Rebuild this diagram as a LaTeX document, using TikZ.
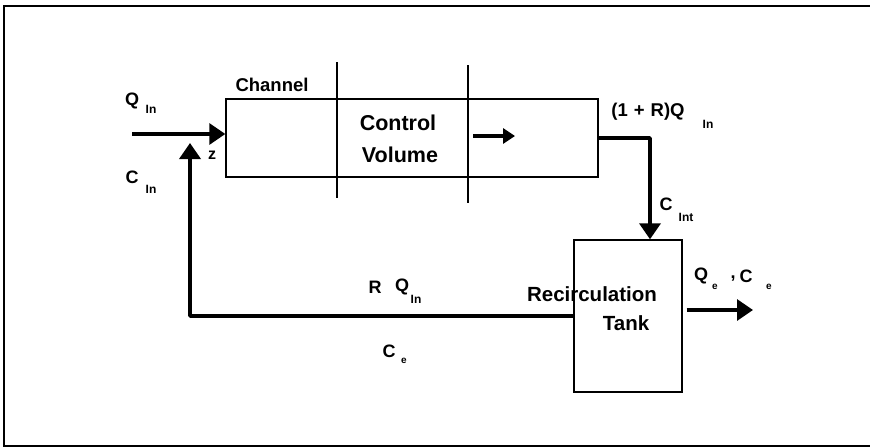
\documentclass[tikz,border=0pt]{standalone}
\usepackage{fontspec}
\setmainfont{Liberation Sans}
\usetikzlibrary{arrows.meta}
\begin{document}
\begin{tikzpicture}[x=1pt,y=-1pt,
  box/.style={draw,line width=1.4pt,inner sep=0,rectangle},
  thin/.style={line width=1.4pt},
  flow/.style={line width=3.6pt,line join=round},
  bighead/.style={-{Triangle[length=16pt,width=21pt]}},
  smallhead/.style={-{Triangle[length=12pt,width=15pt]}},
  big/.style={font=\fontsize{21.5}{21.5}\selectfont\bfseries,inner sep=0},
  lbl/.style={font=\fontsize{18}{18}\selectfont\bfseries,inner sep=0},
  sub/.style={font=\fontsize{12}{12}\selectfont\bfseries,inner sep=0},
  tiny/.style={font=\fontsize{10}{10}\selectfont\bfseries,inner sep=0}]
\useasboundingbox (0,0) rectangle (870,447);
% frame
\draw[line width=2pt] (870,6) -- (4,6) -- (4,446) -- (870,446);
% boxes
\node[box,minimum width=372pt,minimum height=78pt] (chan) at (412,138) {};
\node[box,minimum width=108pt,minimum height=152pt] (tank) at (628,316) {};
% dividers
\coordinate (d1t) at (337,62); \coordinate (d1b) at (337,198);
\coordinate (d2t) at (468,65); \coordinate (d2b) at (468,203);
\draw[thin] (d1t) -- (d1b);
\draw[thin] (d2t) -- (d2b);
% texts in boxes
\node[font=\fontsize{18.5}{18.5}\selectfont\bfseries,inner sep=0] (chl) at (272,85) {Channel};
\node[big] (ctl) at (398,123) {Control};
\node[big] (vol) at (400,155) {Volume};
\node[font=\fontsize{20.5}{20.5}\selectfont\bfseries,inner sep=0] (rec) at (592,294) {Recirculation};
\node[font=\fontsize{20.5}{20.5}\selectfont\bfseries,inner sep=0] (tk) at (626,323) {Tank};
% inner arrow
\coordinate (ia1) at (473,136); \coordinate (ia2) at (515,136);
\draw[line width=3.2pt,smallhead] (ia1) -- (ia2);
% input arrow
\coordinate (qin) at (132,134);
\draw[line width=3.2pt,bighead] (qin) -- (qin -| chan.west);
% feedback
\coordinate (zin) at (190,143);
\draw[flow,bighead] (tank.west) -| (zin);
% channel to tank
\draw[flow,bighead] (chan.east) -| ([xshift=22pt]tank.north);
% output
\coordinate (out) at (753,310);
\draw[line width=3.2pt,bighead] ([xshift=4pt]tank.east |- out) -- (out);
% labels
\node[lbl] (q1) at (132,101) {Q};
\node[sub] (q1s) at (151,109) {In};
\node[lbl] (c1) at (132,177) {C};
\node[sub] (c1s) at (151,189) {In};
\node[font=\fontsize{16}{16}\selectfont\bfseries,inner sep=0] (z) at (212,155) {z};
\node[font=\fontsize{18.5}{18.5}\selectfont\bfseries,inner sep=0] (rq) at (648,112) {(1\hspace{6pt}+\hspace{6pt}R)Q};
\node[sub] (rqs) at (708,124) {In};
\node[lbl] (ci) at (666,204) {C};
\node[sub] (cis) at (686,217) {Int};
\node[lbl] (r2) at (375,287) {R};
\node[lbl] (q2) at (402,287) {Q};
\node[sub] (q2s) at (416,299) {In};
\node[lbl] (ce) at (389,351) {C};
\node[tiny] (ces) at (404,361) {e};
\node[lbl] (qe) at (701,276) {Q};
\node[tiny] (qes) at (715,287) {e};
\node[lbl] (cm) at (733,279) {,};
\node[lbl] (ce2) at (746,276) {C};
\node[tiny] (ce2s) at (769,287) {e};
\end{tikzpicture}
\end{document}
